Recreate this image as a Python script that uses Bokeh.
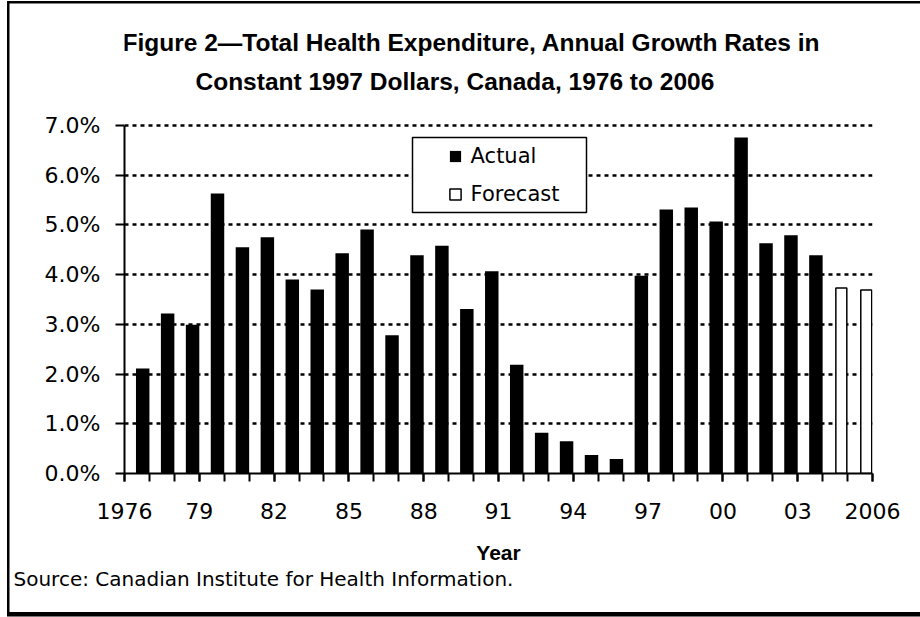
from bokeh.plotting import figure
from bokeh.models import (Range1d, FixedTicker, Legend, LegendItem,
                          BoxAnnotation, Title, Label)
from bokeh.embed import file_html
from bokeh.resources import INLINE

# ---------------- data ----------------
actual_years = list(range(1977, 2005))
actual_values = [2.11, 3.22, 2.99, 5.63, 4.55, 4.75, 3.90, 3.70, 4.43, 4.91,
                 2.78, 4.39, 4.58, 3.31, 4.07, 2.19, 0.82, 0.65, 0.37, 0.29,
                 3.98, 5.31, 5.35, 5.07, 6.76, 4.63, 4.79, 4.39]
forecast_years = [2005, 2006]
forecast_values = [3.73, 3.69]

x_tick_years = [1976, 1979, 1982, 1985, 1988, 1991, 1994, 1997, 2000, 2003, 2006]
x_tick_labels = ["1976", "79", "82", "85", "88", "91", "94", "97", "00", "03", "2006"]
y_ticks = [0, 1, 2, 3, 4, 5, 6, 7]
y_tick_labels = ["0.0%", "1.0%", "2.0%", "3.0%", "4.0%", "5.0%", "6.0%", "7.0%"]

title_lines = ["Figure 2\u2014Total Health Expenditure, Annual Growth Rates in",
               "Constant 1997 Dollars, Canada, 1976 to 2006"]
x_axis_title = "Year"
source_note = "Source: Canadian Institute for Health Information."
legend_labels = ["Actual", "Forecast"]

# ---------------- layout ----------------
# plot area: x 124..872 px, value 0 at y=473 px, 7.0% at y=125 px.
# The frame reaches up to y=5 px so the two title lines can sit inside it.
BL = 124
FRAME_W = 748
FRAME_TOP = 5
FRAME_BOTTOM = 473
FRAME_H = FRAME_BOTTOM - FRAME_TOP
BR = 920 - BL - FRAME_W
BB = 617 - FRAME_BOTTOM
X0, X1 = 1976, 2006
Y0, Y_AXIS_TOP = 0, 7
PX_YR = FRAME_W / (X1 - X0)
PX_PCT = (FRAME_BOTTOM - 125) / (Y_AXIS_TOP - Y0)
Y1 = FRAME_H / PX_PCT


def xd(px):  # canvas pixel -> data x
    return X0 + (px - BL) / PX_YR


def yd(py):  # canvas pixel -> data y
    return Y1 - (py - FRAME_TOP) / PX_PCT


border_css = ("inset 7px 0 0 0 white, inset 0 1px 0 0 white, inset 0 -1px 0 0 #777, "
              "inset 9.5px 0 0 0 black, inset 0 3.5px 0 0 black, inset 0 -5px 0 0 black")

p = figure(frame_width=FRAME_W, frame_height=FRAME_H,
           min_border_left=BL, min_border_top=FRAME_TOP,
           min_border_right=BR, min_border_bottom=BB,
           x_range=Range1d(X0, X1), y_range=Range1d(Y0, Y1),
           output_backend="svg", toolbar_location=None, tools="",
           styles={"box-shadow": border_css, "background-color": "white"})
p.outline_line_color = None
p.background_fill_color = "white"
p.border_fill_alpha = 0

# grid
p.xgrid.visible = False
p.ygrid.ticker = FixedTicker(ticks=y_ticks)
p.ygrid.grid_line_color = "black"
p.ygrid.grid_line_width = 2.5
p.ygrid.grid_line_dash = "4 4"

# axes
TICK_FONT = "DejaVu Sans"
TITLE_FONT = "Liberation Sans"
p.xaxis.ticker = FixedTicker(ticks=x_tick_years, minor_ticks=list(range(X0, X1 + 1)))
p.xaxis.major_label_overrides = {t: l for t, l in zip(x_tick_years, x_tick_labels)}
p.yaxis.ticker = FixedTicker(ticks=y_ticks)
p.yaxis.major_label_overrides = {t: l for t, l in zip(y_ticks, y_tick_labels)}
p.yaxis.bounds = (Y0, Y_AXIS_TOP)
for ax in (p.xaxis, p.yaxis):
    ax.axis_line_color = "black"
    ax.axis_line_width = 2
    ax.major_tick_line_color = "black"
    ax.major_tick_line_width = 2
    ax.minor_tick_line_color = "black"
    ax.minor_tick_line_width = 2
    ax.major_tick_in = 0
    ax.minor_tick_in = 0
    ax.major_label_text_font = TICK_FONT
    ax.major_label_text_font_size = "22px"
    ax.major_label_text_color = "black"
p.xaxis.major_tick_out = 8
p.xaxis.minor_tick_out = 8
p.xaxis.major_label_standoff = 21
p.xaxis.axis_label = x_axis_title
p.xaxis.axis_label_text_font = TITLE_FONT
p.xaxis.axis_label_text_font_style = "bold"
p.xaxis.axis_label_text_font_size = "21px"
p.xaxis.axis_label_text_color = "black"
p.xaxis.axis_label_standoff = 19
p.yaxis.major_tick_out = 9
p.yaxis.minor_tick_out = 0
p.yaxis.major_label_standoff = 15

# bars
BAR_W = 0.54
FC_W = 0.44
r_act = p.vbar(x=[y - BAR_W / 2 for y in actual_years], top=actual_values,
               width=BAR_W, bottom=0, fill_color="black", line_color=None)
r_fc = p.vbar(x=[y - FC_W / 2 - 0.03 for y in forecast_years], top=forecast_values,
              width=FC_W, bottom=0, fill_color="white", line_color="black",
              line_width=1.5)

# legend box + legend
p.add_layout(BoxAnnotation(left=xd(412), right=xd(586), top=yd(137), bottom=yd(212),
                           fill_color="white", fill_alpha=1.0,
                           line_color="black", line_alpha=1.0, line_width=1.5))
legend = Legend(items=[LegendItem(label=legend_labels[0], renderers=[r_act]),
                       LegendItem(label=legend_labels[1], renderers=[r_fc])],
                location=(447.6 - 6 - BL, FRAME_BOTTOM - 212),
                padding=6, margin=0, spacing=14,
                glyph_width=14, glyph_height=14, label_standoff=9,
                label_text_font=TICK_FONT, label_text_font_size="21px",
                label_text_color="black",
                label_height=14, border_line_alpha=0, background_fill_alpha=0)
p.add_layout(legend)

# two-line chart title (inside the extended frame, above the 7.0% line)
p.add_layout(Label(x=xd(122), y=yd(42.3), text=title_lines[0], text_align="left",
                   text_baseline="alphabetic", text_font=TITLE_FONT,
                   text_font_style="bold", text_font_size="24.5px",
                   text_color="black"))
p.add_layout(Label(x=xd(195), y=yd(80.7), text=title_lines[1], text_align="left",
                   text_baseline="alphabetic", text_font=TITLE_FONT,
                   text_font_style="bold", text_font_size="24.5px",
                   text_color="black"))

# below the axis: source note
p.add_layout(Title(text=source_note, align="left", offset=13 - BL, standoff=-3,
                   text_font=TICK_FONT, text_font_style="normal",
                   text_font_size="20px", text_color="black"), "below")

open("out.html", "w").write(file_html(p, INLINE))
